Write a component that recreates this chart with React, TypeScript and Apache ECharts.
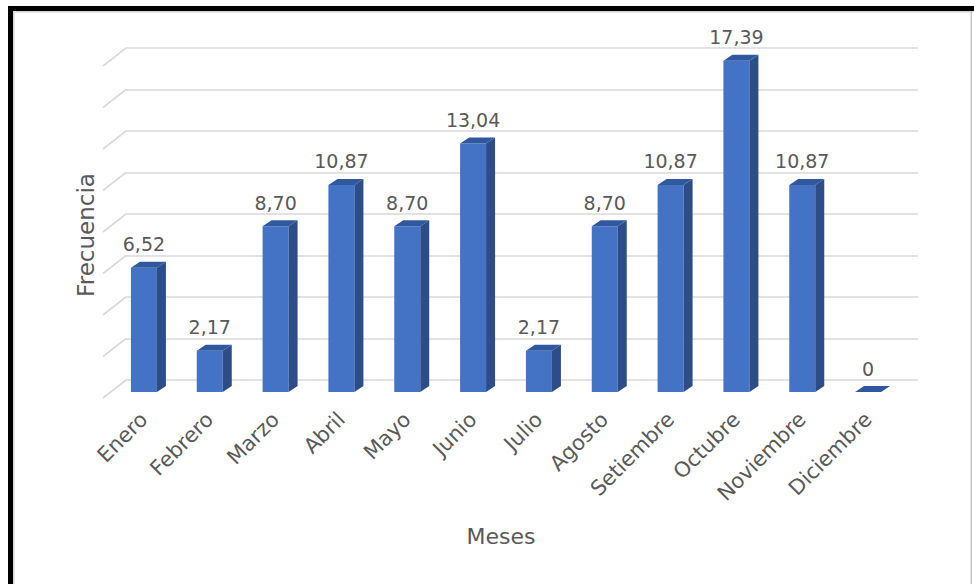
import React, { useEffect, useRef } from "react";
import * as echarts from "echarts";

const CATEGORIES = [
  "Enero", "Febrero", "Marzo", "Abril", "Mayo", "Junio",
  "Julio", "Agosto", "Setiembre", "Octubre", "Noviembre", "Diciembre",
];
const VALUES = [6.52, 2.17, 8.7, 10.87, 8.7, 13.04, 2.17, 8.7, 10.87, 17.39, 10.87, 0];
const GRID_TICKS = [0, 2.5, 5, 7.5, 10, 12.5, 15, 17.5, 20];

const FONT = "DejaVu Sans";
const TEXT_COLOR = "#595959";

function fmt(v: number): string {
  return v === 0 ? "0" : v.toFixed(2).replace(".", ",");
}

export default function App() {
  const ref = useRef<HTMLDivElement>(null);
  useEffect(() => {
    if (!ref.current) return;
    const chart = echarts.init(ref.current, null, { renderer: "svg" });
    const option: any = {
      animation: false,
      backgroundColor: "#ffffff",
      textStyle: { fontFamily: FONT },
      grid: [
        { left: 111, right: 73, top: 11, bottom: 192 },
        { left: 126, right: 56, top: 48, bottom: 204 },
      ],
      xAxis: [
        {
          type: "category",
          gridIndex: 0,
          data: CATEGORIES,
          axisLine: { show: false },
          axisTick: { show: false },
          axisLabel: {
            rotate: 45,
            margin: 24,
            fontSize: 21,
            color: TEXT_COLOR,
            fontFamily: FONT,
            interval: 0,
          },
        },
        { type: "value", gridIndex: 1, min: 0, max: 1, show: false },
      ],
      yAxis: [
        { type: "value", gridIndex: 0, min: 0, max: 20, show: false },
        {
          type: "value",
          gridIndex: 1,
          min: 0,
          max: 20,
          interval: 2.5,
          axisLine: { show: false },
          axisTick: { show: false },
          axisLabel: { show: false },
          splitLine: { show: true, lineStyle: { color: "#d9d9d9", width: 1.6 } },
        },
      ],
      series: [
        {
          type: "custom",
          xAxisIndex: 1,
          yAxisIndex: 1,
          z: 1,
          silent: true,
          data: GRID_TICKS.map((t) => [0, t]),
          renderItem: (params: any, api: any) => {
            const p = api.coord([api.value(0), api.value(1)]);
            return {
              type: "line",
              shape: { x1: p[0] - 23, y1: p[1] + 18, x2: p[0], y2: p[1] },
              style: { stroke: "#d9d9d9", lineWidth: 1.6 },
            };
          },
        },
        {
          type: "custom",
          xAxisIndex: 0,
          yAxisIndex: 0,
          z: 5,
          data: VALUES.map((v, i) => [i, v]),
          renderItem: (params: any, api: any) => {
            const i = api.value(0);
            const v = api.value(1);
            const base = api.coord([i, 0]);
            const top = api.coord([i, v]);
            const w = 26, dx = 9, dy = 6;
            const l = base[0] - w / 2;
            const r = base[0] + w / 2;
            const yb = base[1];
            const yt = top[1];
            const children: any[] = [];
            if (yb - yt > 0.5) {
              children.push({
                type: "rect",
                shape: { x: l, y: yt, width: w, height: yb - yt },
                style: { fill: "#4472c4" },
              });
              children.push({
                type: "polygon",
                shape: { points: [[r, yb], [r, yt], [r + dx, yt - dy], [r + dx, yb - dy]] },
                style: { fill: "#2c4d87" },
              });
            }
            children.push({
              type: "polygon",
              shape: { points: [[l, yt], [r, yt], [r + dx, yt - dy], [l + dx, yt - dy]] },
              style: { fill: "#30589f" },
            });
            children.push({
              type: "text",
              style: {
                text: fmt(v),
                x: base[0],
                y: yt - dy - 8,
                align: "center",
                verticalAlign: "bottom",
                fontFamily: FONT,
                fontSize: 19,
                fill: TEXT_COLOR,
              },
            });
            return { type: "group", children };
          },
        },
      ],
      graphic: [
        { type: "rect", shape: { x: 8, y: 6, width: 5, height: 590 }, style: { fill: "#000" }, z: 100 },
        { type: "rect", shape: { x: 8, y: 6, width: 980, height: 5 }, style: { fill: "#000" }, z: 100 },
        { type: "rect", shape: { x: 13, y: 11, width: 1.5, height: 580 }, style: { fill: "#d4d4d4" }, z: 100 },
        { type: "rect", shape: { x: 13, y: 11, width: 960, height: 1.5 }, style: { fill: "#d4d4d4" }, z: 100 },
        { type: "rect", shape: { x: 970.5, y: 11, width: 1.5, height: 580 }, style: { fill: "#c6c6c6" }, z: 100 },
        {
          type: "text",
          x: 86,
          y: 235,
          rotation: Math.PI / 2,
          style: {
            text: "Frecuencia",
            align: "center",
            verticalAlign: "middle",
            fontFamily: FONT,
            fontSize: 23,
            fill: TEXT_COLOR,
          },
        },
        {
          type: "text",
          x: 501,
          y: 536,
          style: {
            text: "Meses",
            align: "center",
            verticalAlign: "middle",
            fontFamily: FONT,
            fontSize: 22,
            fill: TEXT_COLOR,
          },
        },
      ],
    };
    chart.setOption(option);
    return () => chart.dispose();
  }, []);
  return (
    <div
      ref={ref}
      style={{ position: "fixed", left: 0, top: 0, width: 974, height: 584 }}
    />
  );
}
